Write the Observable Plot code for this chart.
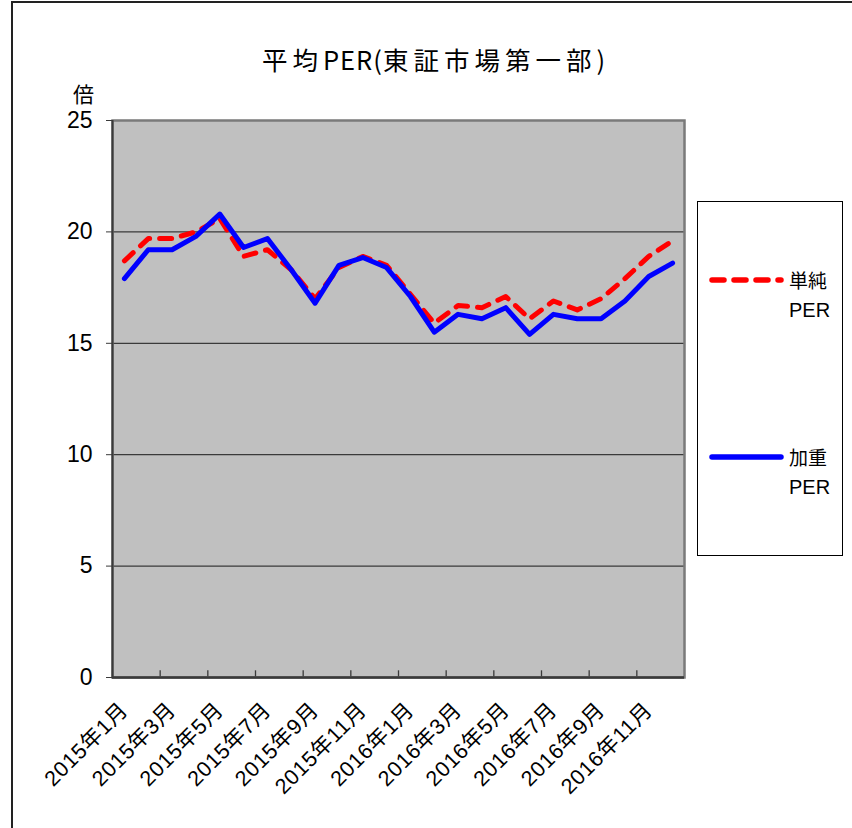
<!DOCTYPE html>
<html><head><meta charset="utf-8">
<script src="https://cdn.jsdelivr.net/npm/d3@7"></script>
<script src="https://cdn.jsdelivr.net/npm/@observablehq/plot@0.6"></script>
<style>
body{margin:0;background:#fff;}
#wrap{position:relative;width:852px;height:828px;overflow:hidden;font-family:"Liberation Sans","Noto Sans CJK JP",sans-serif;color:#000;}
#border{position:absolute;left:11px;top:1px;width:900px;height:900px;border-left:2px solid #222;border-top:2px solid #222;}
#title{position:absolute;left:0;width:868px;top:43px;text-align:center;font-size:25.5px;font-family:"Noto Sans CJK JP",sans-serif;line-height:32px;white-space:nowrap;}
#title .c{letter-spacing:5px;}
#title .l{letter-spacing:1px;}
#unit{position:absolute;left:73px;top:80px;font-size:21px;font-family:"Noto Sans CJK JP",sans-serif;line-height:26px;}
#legend{position:absolute;left:697px;top:201px;width:144px;height:353px;border:1px solid #000;background:#fff;}
.lg{position:absolute;left:0;width:144px;height:60px;}
.lg svg{position:absolute;left:10px;top:0;}
.lg .t{position:absolute;left:91px;font-size:19px;line-height:28px;font-family:"Noto Sans CJK JP",sans-serif;}
.lg .p{position:absolute;left:91px;font-size:20px;line-height:28px;font-family:"Liberation Sans Narrow","Liberation Sans",sans-serif;}
#chart{position:absolute;left:0;top:0;}
#chart g[aria-label="x-axis tick label"] text{letter-spacing:0.7px;}
</style></head>
<body>
<div id="wrap">
  <div id="border"></div>
  <div id="chart"></div>
  <div id="title"></div>
  <div id="unit"></div>
  <div id="legend"></div>
</div>
<script>
const titleParts = [["平均","c"],["PER(","l"],["東証市場第一部","c"],[")","l"]];
const unitText = "倍";
const months = ["2015年1月","2015年2月","2015年3月","2015年4月","2015年5月","2015年6月","2015年7月","2015年8月","2015年9月","2015年10月","2015年11月","2015年12月",
  "2016年1月","2016年2月","2016年3月","2016年4月","2016年5月","2016年6月","2016年7月","2016年8月","2016年9月","2016年10月","2016年11月","2016年12月"];
const seriesNames = ["単純PER","加重PER"];
const legendLabels = [["単純","PER"],["加重","PER"]];
const simplePER = [18.7,19.7,19.7,20.0,20.6,18.9,19.2,18.3,17.0,18.4,18.9,18.5,17.2,15.9,16.7,16.6,17.1,16.1,16.9,16.5,17.0,17.9,18.9,19.6];
const weightedPER = [17.9,19.2,19.2,19.8,20.8,19.3,19.7,18.3,16.8,18.5,18.85,18.4,17.1,15.5,16.3,16.1,16.6,15.4,16.3,16.1,16.1,16.9,18.0,18.6];
const yTicks = [0,5,10,15,20,25];
const gridValues = [5,10,15,20];
const colors = ["#ff0000","#0000ff"];

const rows = months.flatMap((m,i)=>[
  {month:m, series:seriesNames[0], value:simplePER[i]},
  {month:m, series:seriesNames[1], value:weightedPER[i]}
]);
const labelTicks = months.filter((d,i)=>i%2===0);

const W = 852, H = 828, ml = 112, mr = 168, mt = 120, mb = 151;
const step = (W-ml-mr)/months.length;

const chart = Plot.plot({
  width: W, height: H,
  marginLeft: ml, marginRight: mr, marginTop: mt, marginBottom: mb,
  style: {background: "transparent", fontFamily: "'Liberation Sans','Noto Sans CJK JP',sans-serif", color: "#000"},
  x: {type: "point", domain: months, padding: 0.5, round: false, label: null},
  y: {domain: [0,25], label: null},
  marks: [
    Plot.frame({fill: "#c0c0c0", stroke: null}),
    Plot.ruleY(gridValues, {stroke: "#3a3a3a", strokeWidth: 1.3}),
    Plot.ruleX(labelTicks, {x: d=>d, y1: 0, y2: 0.3, dx: -step/2, stroke: "#3a3a3a", strokeWidth: 1.3}),
    Plot.frame({stroke: "#7a7a7a", strokeWidth: 2.5}),
    Plot.ruleY([0], {stroke: "#3a3a3a", strokeWidth: 2.5}),
    Plot.ruleX([months[0]], {dx: -step/2, stroke: "#3a3a3a", strokeWidth: 2}),
    Plot.axisY({ticks: yTicks, tickSize: 6, tickPadding: 14, fontSize: 23, stroke: "#3a3a3a",
      fontFamily: "'Liberation Sans Narrow','Liberation Sans',sans-serif"}),
    Plot.axisX({ticks: labelTicks, tickSize: 0, tickPadding: 29, tickRotate: -45, fontSize: 21.5,
      fontFamily: "'Liberation Sans','Noto Sans CJK JP',sans-serif"}),
    Plot.line(rows.filter(d=>d.series===seriesNames[0]), {x: "month", y: "value", stroke: colors[0], strokeWidth: 5,
      strokeDasharray: "12,10", strokeLinecap: "round", strokeLinejoin: "round"}),
    Plot.line(rows.filter(d=>d.series===seriesNames[1]), {x: "month", y: "value", stroke: colors[1], strokeWidth: 5,
      strokeLinejoin: "round", strokeLinecap: "round"})
  ]
});
document.getElementById("chart").appendChild(chart);
const titleEl = document.getElementById("title");
titleParts.forEach(([t,c])=>{ const s=document.createElement("span"); s.className=c; s.textContent=t; titleEl.appendChild(s); });
document.getElementById("unit").textContent = unitText;

const legend = document.getElementById("legend");
const lgTops = [64, 241];
seriesNames.forEach((s,i)=>{
  const g = document.createElement("div");
  g.className = "lg";
  g.style.top = lgTops[i] + "px";
  const dash = i===0 ? 'stroke-dasharray="12,10"' : '';
  g.innerHTML = `<svg width="80" height="28"><line x1="4" x2="73" y1="14" y2="14" stroke="${colors[i]}" stroke-width="5.5" stroke-linecap="round" ${dash}/></svg>
    <div class="t" style="top:0">${legendLabels[i][0]}</div><div class="p" style="top:30px">${legendLabels[i][1]}</div>`;
  legend.appendChild(g);
});
</script>
</body></html>
